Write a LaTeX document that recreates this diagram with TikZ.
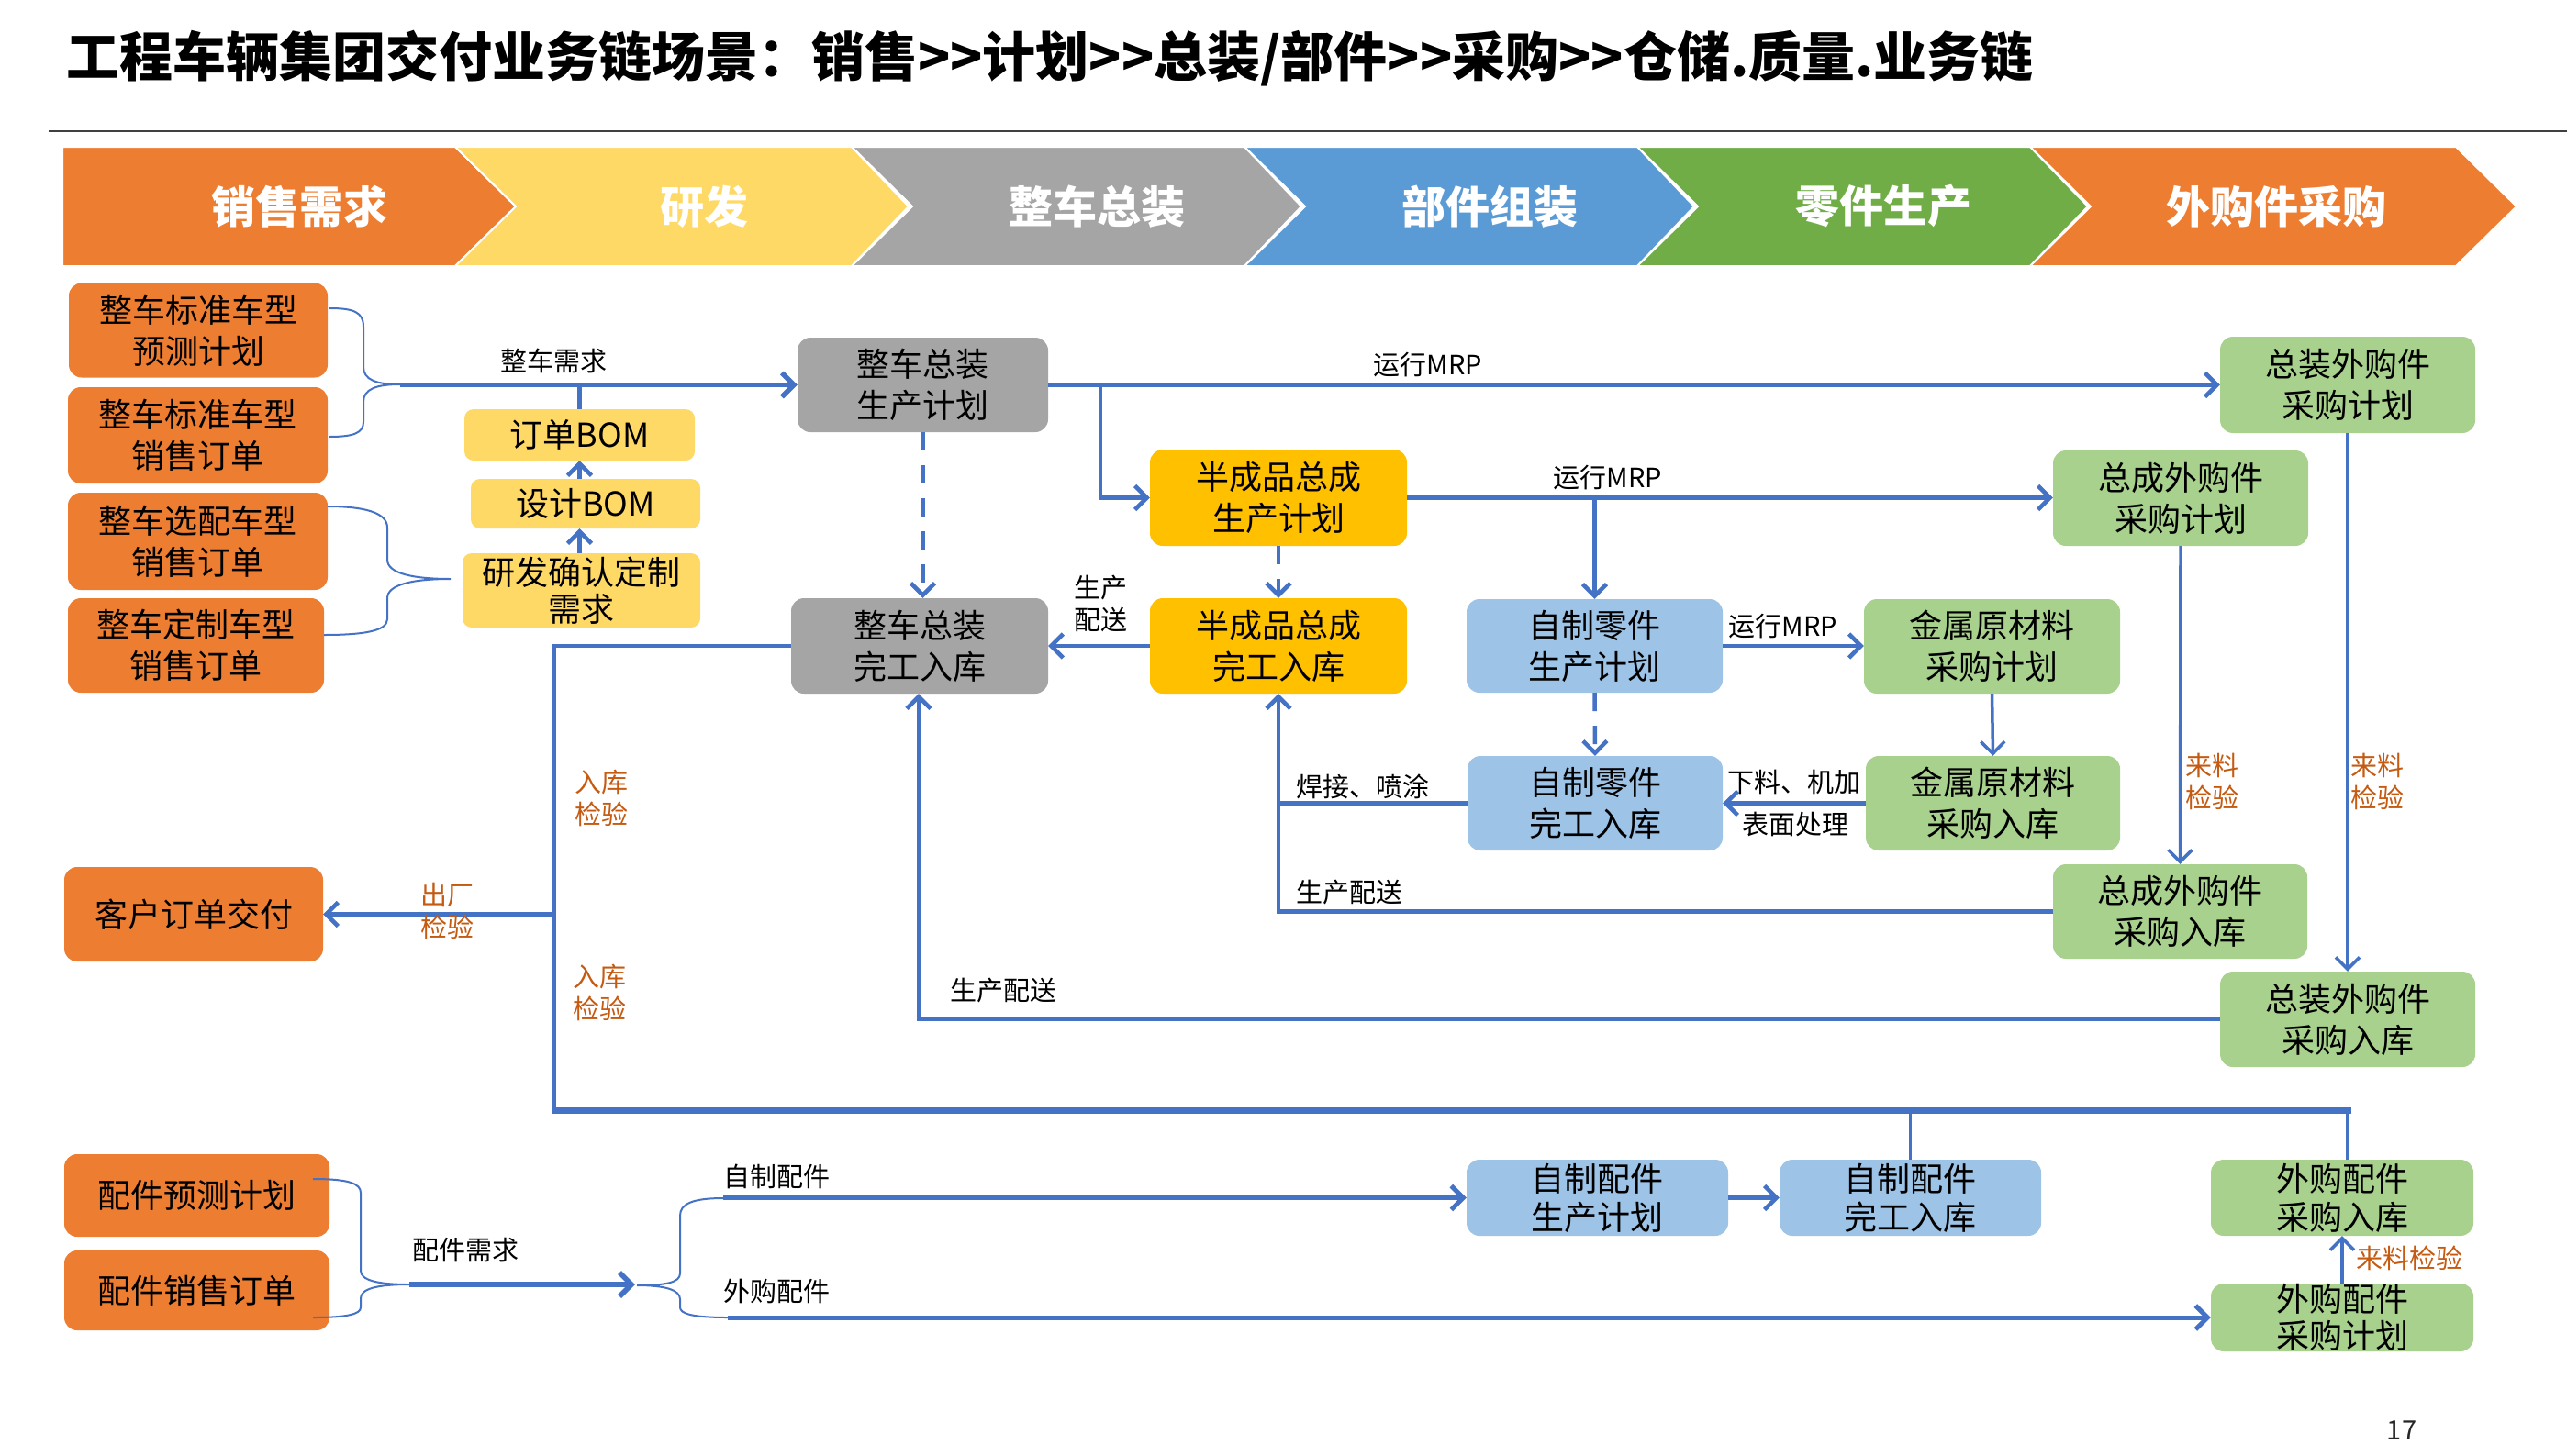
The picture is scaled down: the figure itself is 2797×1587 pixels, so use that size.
\documentclass[tikz,border=0pt]{standalone}
\usepackage{fontspec}
\setmainfont{Noto Sans CJK SC}
\usetikzlibrary{arrows.meta}
\definecolor{cOr}{HTML}{ED7D31}
\definecolor{cYe}{HTML}{FFD966}
\definecolor{cGr}{HTML}{A5A5A5}
\definecolor{cBl}{HTML}{5B9BD5}
\definecolor{cGn}{HTML}{70AD47}
\definecolor{cGold}{HTML}{FFC000}
\definecolor{cLBl}{HTML}{9DC3E6}
\definecolor{cLGn}{HTML}{A9D18E}
\definecolor{cLine}{HTML}{4472C4}
\definecolor{cTxtO}{HTML}{C55A11}
\newcommand\nodefont{\fontsize{36}{45}\selectfont}
\newcommand\lblfont{\fontsize{29}{35}\selectfont}
\newcommand\dblgt{>\kern0pt>}
\begin{document}
\begin{tikzpicture}[x=1pt,y=-1pt,
  box/.style={rounded corners=14pt, inner sep=0pt, align=center, font=\nodefont, text=black},
  wh/.style 2 args={minimum width=#1pt, minimum height=#2pt},
  obox/.style={box, fill=cOr},
  ybox/.style={box, fill=cYe},
  gbox/.style={box, fill=cGr},
  aubox/.style={box, fill=cGold},
  lbbox/.style={box, fill=cLBl},
  lgbox/.style={box, fill=cLGn},
  chev/.style={font=\fontsize{48}{48}\selectfont\bfseries, text=white},
  chevshape/.style={draw=white, line width=2pt},
  ln/.style={draw=cLine, line width=4.5pt},
  thk/.style={draw=cLine, line width=7pt},
  brc/.style={draw=cLine, line width=2pt},
  arr/.style={-{Straight Barb[length=13pt,width=26pt]}},
  dsh/.style={dash pattern=on 20pt off 16pt},
  lbl/.style={font=\lblfont, text=black, inner sep=0pt, align=center},
  olbl/.style={font=\lblfont, text=cTxtO, inner sep=0pt, align=center}
]
\useasboundingbox (0,0) rectangle (2797,1587);

% title
\node[anchor=west, inner sep=0pt, font=\fontsize{58}{58}\selectfont\bfseries] (title) at (72,64)
  {工程车辆集团交付业务链场景：销售\dblgt 计划\dblgt 总装/部件\dblgt 采购\dblgt 仓储.质量.业务链};
\draw[draw=black!75, line width=2pt] (53,143) -- (2797,143);

% chevrons
\fill[cOr, chevshape] (68,160) -- (496,160) -- (562,225) -- (496,290) -- (68,290) -- cycle;
\foreach \xl/\xr/\tp/\col in {496/928/990/cYe, 928/1356/1418/cGr, 1356/1784/1846/cBl, 1784/2212/2275/cGn, 2212/2676/2742/cOr}{
  \fill[\col, chevshape] (\xl,160) -- (\xr,160) -- (\tp,225) -- (\xr,290) -- (\xl,290) -- ({\xl+66},225) -- cycle;
}
\node[chev] (h1) at (326,225) {销售需求};
\node[chev] (h2) at (767,225) {研发};
\node[chev] (h3) at (1195,225) {整车总装};
\node[chev] (h4) at (1623,225) {部件组装};
\node[chev] (h5) at (2052,225) {零件生产};
\node[chev] (h6) at (2480,225) {外购件采购};

% left orange nodes
\node[obox, wh={282}{103}] (s1) at (216,360) {整车标准车型\\预测计划};
\node[obox, wh={283}{105}] (s2) at (215.5,474.5) {整车标准车型\\销售订单};
\node[obox, wh={283}{106}] (s3) at (215.5,590) {整车选配车型\\销售订单};
\node[obox, wh={279}{103}] (s4) at (213.5,703.5) {整车定制车型\\销售订单};
\node[obox, wh={282}{103}] (cust) at (211,996.5) {客户订单交付};
\node[obox, wh={289}{90}] (p1) at (214.5,1303) {配件预测计划};
\node[obox, wh={289}{87}] (p2) at (214.5,1406.5) {配件销售订单};

% yellow
\node[ybox, wh={251}{56}, rounded corners=10pt] (obom) at (631.5,474) {订单BOM};
\node[ybox, wh={250}{54}, rounded corners=10pt] (dbom) at (638,549) {设计BOM};
\node[ybox, wh={259}{81}, rounded corners=10pt, font=\fontsize{36}{40}\selectfont] (rd) at (633.5,643.5) {研发确认定制\\需求};

% gray
\node[gbox, wh={273}{103}] (zzplan) at (1005.5,419.5) {整车总装\\生产计划};
\node[gbox, wh={280}{104}] (zzdone) at (1002,704) {整车总装\\完工入库};

% gold
\node[aubox, wh={280}{105}] (bplan) at (1393,542.5) {半成品总成\\生产计划};
\node[aubox, wh={280}{104}] (bdone) at (1393,704) {半成品总成\\完工入库};

% light blue
\node[lbbox, wh={279}{102}] (zlplan) at (1737.5,704) {自制零件\\生产计划};
\node[lbbox, wh={278}{103}] (zldone) at (1738,875.5) {自制零件\\完工入库};
\node[lbbox, wh={285}{83}, font=\fontsize{36}{42}\selectfont] (pjplan) at (1740.5,1305.5) {自制配件\\生产计划};
\node[lbbox, wh={285}{83}, font=\fontsize{36}{42}\selectfont] (pjdone) at (2081.5,1305.5) {自制配件\\完工入库};

% light green
\node[lgbox, wh={278}{105}] (zwplan) at (2558,419.5) {总装外购件\\采购计划};
\node[lgbox, wh={278}{104}] (cwplan) at (2376,543) {总成外购件\\采购计划};
\node[lgbox, wh={279}{103}] (jsplan) at (2170.5,704.5) {金属原材料\\采购计划};
\node[lgbox, wh={277}{103}] (jsdone) at (2171.5,875.5) {金属原材料\\采购入库};
\node[lgbox, wh={277}{103}] (cwdone) at (2375.5,993.5) {总成外购件\\采购入库};
\node[lgbox, wh={278}{104}] (zwdone) at (2558,1111) {总装外购件\\采购入库};
\node[lgbox, wh={286}{83}, font=\fontsize{36}{42}\selectfont] (wgdone) at (2552,1305.5) {外购配件\\采购入库};
\node[lgbox, wh={286}{74}, font=\fontsize{36}{40}\selectfont] (wgplan) at (2552,1436) {外购配件\\采购计划};

% braces
\draw[brc] (359,336) .. controls (385,336) and (396,340) .. (396,356) -- (396,400)
  .. controls (396,414) and (410,419) .. (436,419)
  .. controls (410,419) and (396,424) .. (396,438) -- (396,460)
  .. controls (396,472) and (385,476) .. (359,476);
\draw[brc] (357,552) .. controls (395,552) and (422,558) .. (422,575) -- (422,610)
  .. controls (422,625) and (450,631) .. (491,631)
  .. controls (450,631) and (422,637) .. (422,652) -- (422,675)
  .. controls (422,688) and (395,692) .. (353,692);
\draw[brc] (341,1285) .. controls (380,1285) and (393,1290) .. (393,1300) -- (393,1385)
  .. controls (393,1395) and (410,1400) .. (446,1400)
  .. controls (410,1400) and (393,1405) .. (393,1415) -- (393,1425)
  .. controls (393,1432) and (380,1436) .. (341,1436);
\draw[brc] (788,1306) .. controls (755,1306) and (741,1312) .. (741,1325) -- (741,1388)
  .. controls (741,1398) and (725,1401) .. (694,1401)
  .. controls (725,1401) and (741,1406) .. (741,1416) -- (741,1425)
  .. controls (741,1432) and (755,1436) .. (793,1436);

% named free ends
\coordinate (b1tip) at (436,419.5);
\coordinate (j1) at (1199,419.5);
\coordinate (c1) at (604,704);
\coordinate (c2) at (604,1210);
\coordinate (c3) at (2558,1210);
\coordinate (d1) at (1001,1111);
\coordinate (b3tip) at (446,1400);
\coordinate (b4tip) at (692,1400);
\coordinate (b4t) at (788,1305.5);
\coordinate (b4b) at (793,1436);

% connectors
\draw[ln, line width=5.5pt, arr] (b1tip) -- (zzplan.west);
\draw[ln, line width=5.5pt] (obom.north) -- (obom.north |- b1tip);
\draw[ln, arr] (dbom.north -| obom.south) -- (obom.south);
\draw[ln, arr] (rd.north -| obom.south) -- (dbom.south -| obom.south);

\draw[ln, arr] (zzplan.east) -- (zwplan.west);
\draw[ln, arr] (j1) |- (bplan.west);
\draw[ln, arr] (bplan.east) -- (cwplan.west |- bplan.east);
\draw[ln, arr] (zlplan.north |- bplan.east) -- (zlplan.north);
\draw[ln, arr] (zlplan.east) -- (jsplan.west |- zlplan.east);

\draw[ln, dsh, arr] (zzplan.south) -- (zzdone.north -| zzplan.south);
\draw[ln, dsh, arr] (bplan.south) -- (bdone.north);
\draw[ln, arr] (bdone.west) -- (zzdone.east);

\draw[ln, line join=miter] (zzdone.west) -- (c1) -- ([yshift=-2pt]c2);
\draw[thk, line cap=rect] (c2) -- (c3);
\draw[ln] (c3) -- (c3 |- wgdone.north);
\draw[ln, line width=3.5pt] (pjdone.north |- c2) -- (pjdone.north);
\draw[ln, arr] (c1 |- cust.east) -- (cust.east);

\draw[ln, arr] (zwdone.west) -- (d1) -- (d1 |- zzdone.south);
\draw[ln, arr] (cwdone.west) -| (bdone.south);
\draw[ln] (zldone.west) -- (zldone.west -| bdone.south);
\draw[ln, arr] (jsdone.west) -- (zldone.east);
\draw[ln, dsh, arr] (zlplan.south) -- (zldone.north);
\draw[ln, line width=3.5pt, arr] (jsplan.south) -- (jsdone.north);
\draw[ln, line width=3.5pt, arr] (cwplan.south) -- (cwdone.north);
\draw[ln, line width=3.5pt, arr] (zwplan.south) -- (zwdone.north);

\draw[ln, line width=5.5pt, arr] (b3tip) -- (b4tip);
\draw[ln, line width=5pt, arr] (b4t) -- (pjplan.west);
\draw[ln, arr] (pjplan.east) -- (pjdone.west);
\draw[ln, line width=5pt, arr] (b4b) -- (wgplan.west);
\draw[ln, line width=3.5pt, arr] (wgplan.north) -- (wgdone.south);

% labels
\node[lbl] (l1) at (603,393) {整车需求};
\node[lbl] (l2) at (1556,398) {运行MRP};
\node[lbl] (l3) at (1752,521) {运行MRP};
\node[lbl] (l4) at (1943,683) {运行MRP};
\node[lbl] (l5) at (1199,658) {生产\\配送};
\node[lbl] (l6) at (1485,857) {焊接、喷涂};
\node[lbl] (l7) at (1955,852) {下料、机加};
\node[lbl] (l8) at (1956,898) {表面处理};
\node[lbl] (l9) at (1470,973) {生产配送};
\node[lbl] (l10) at (1093,1080) {生产配送};
\node[olbl] (l11) at (2410,852) {来料\\检验};
\node[olbl] (l12) at (2590,852) {来料\\检验};
\node[olbl] (l13) at (655,870) {入库\\检验};
\node[olbl] (l14) at (653,1082) {入库\\检验};
\node[olbl] (l15) at (487,993) {出厂\\检验};
\node[lbl] (l16) at (507,1363) {配件需求};
\node[lbl] (l17) at (846,1282) {自制配件};
\node[lbl] (l18) at (846,1407) {外购配件};
\node[olbl] (l19) at (2625,1371) {来料检验};
\node[lbl, text=black!85] (pg) at (2617,1559) {17};
\end{tikzpicture}
\end{document}
